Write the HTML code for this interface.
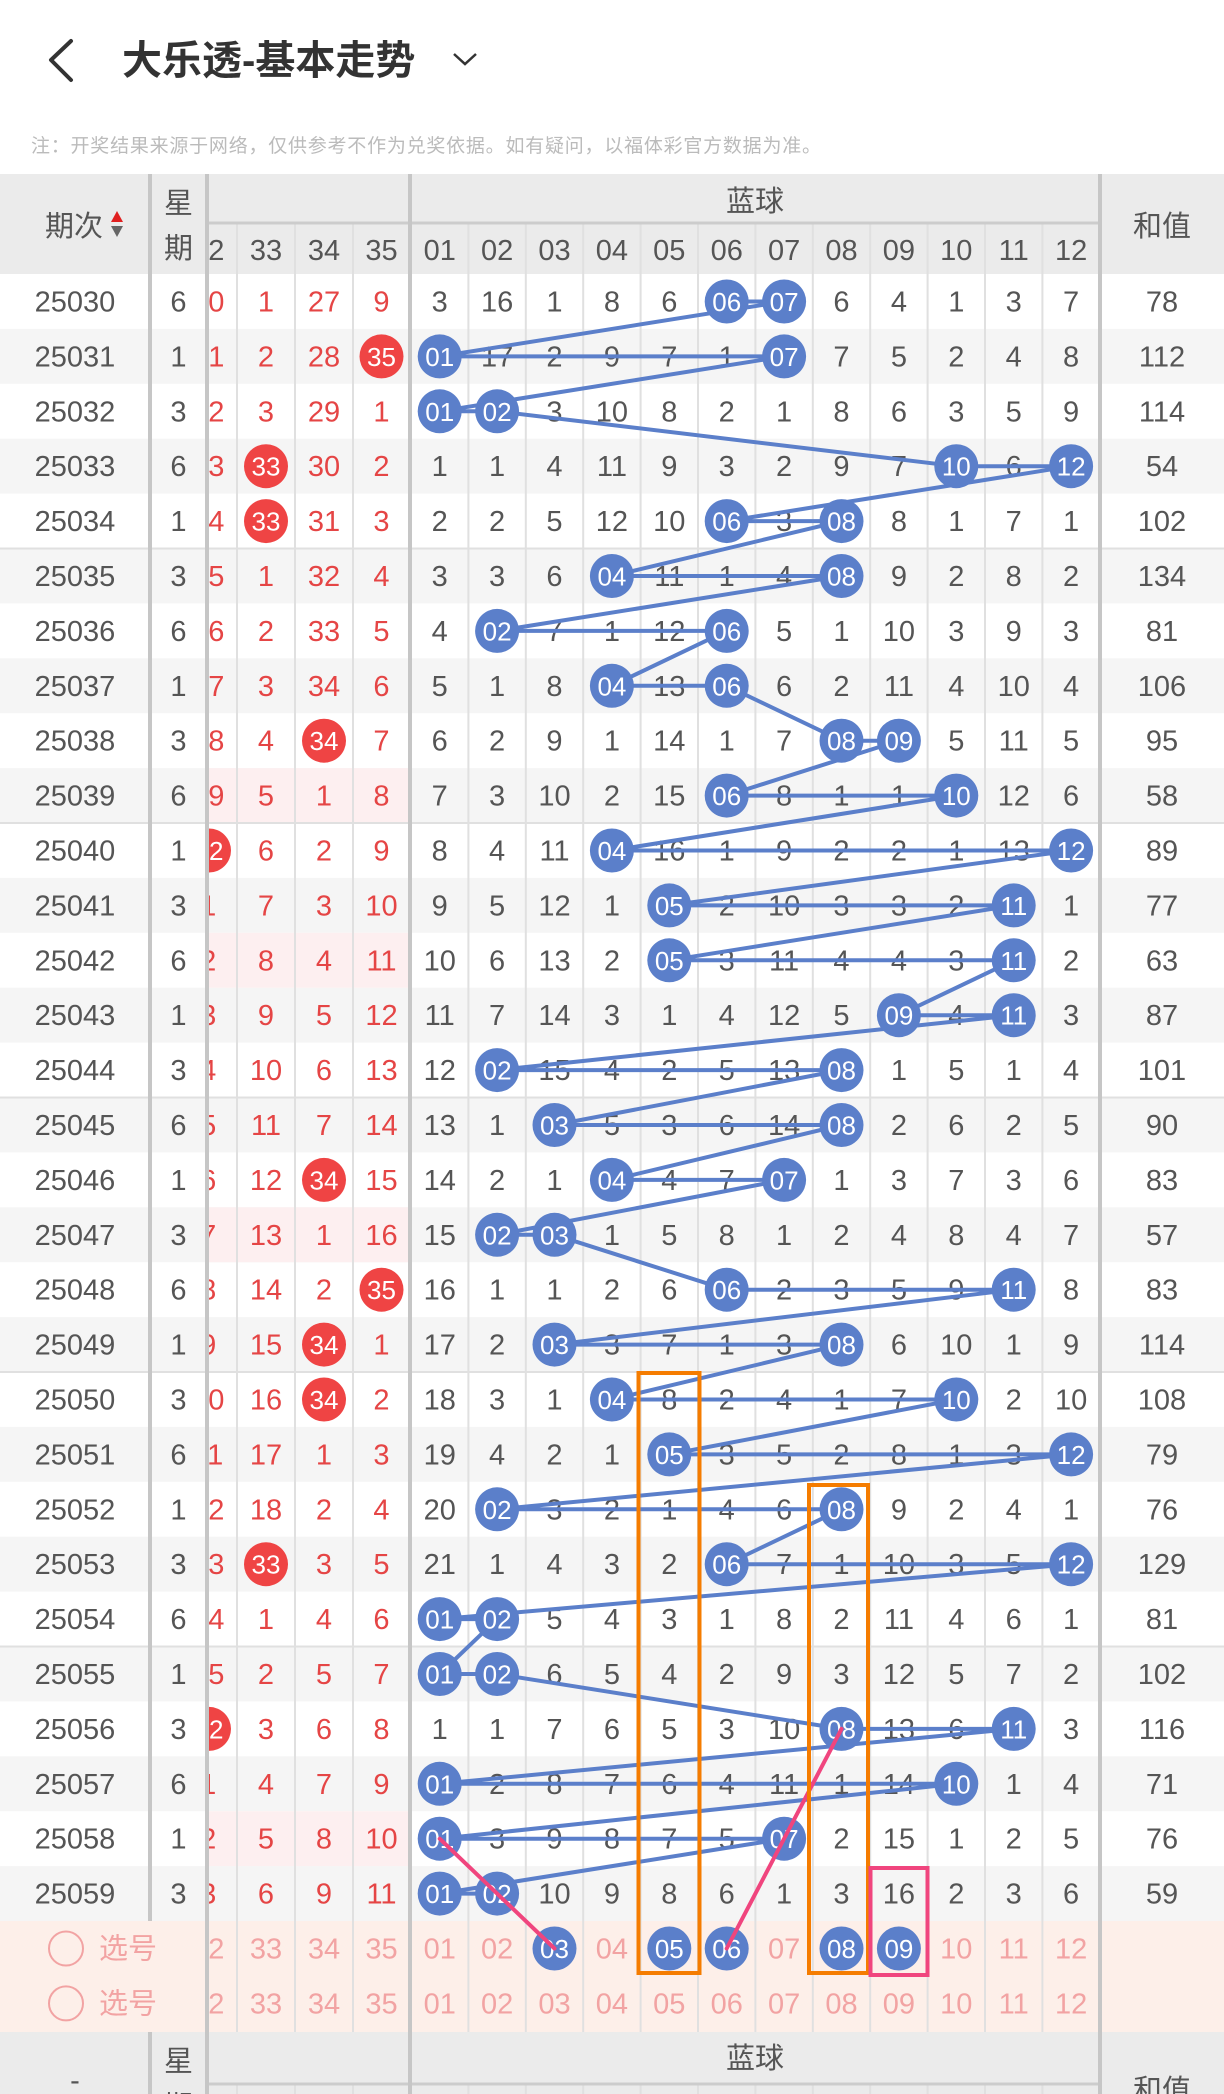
<!DOCTYPE html>
<html><head><meta charset="utf-8"><style>
html,body{margin:0;padding:0;background:#fff;}
svg{display:block;}
text{font-family:"Liberation Sans","Noto Sans CJK SC",sans-serif;text-anchor:middle;}
.t text{font-size:29px;fill:#555;}
.t .r{fill:#e54545;}
.b text{font-size:26px;fill:#fff;}
.h text{font-size:29px;fill:#555;}
.p text{font-size:29px;fill:#f2a3a3;}
</style></head><body>
<svg width="1224" height="2094" viewBox="0 0 1224 2094" xmlns="http://www.w3.org/2000/svg">
<defs><clipPath id="c32"><rect x="209" y="174" width="28" height="1920"/></clipPath></defs>
<rect width="1224" height="2094" fill="#fff"/>
<!-- title -->
<polyline points="71,41 51,60 71,80" fill="none" stroke="#333" stroke-width="4" stroke-linecap="round" stroke-linejoin="round"/>
<text x="122" y="74" style="text-anchor:start;font-size:40px;font-weight:bold;fill:#333">大乐透-基本走势</text>
<polyline points="454,54 465,64 476,54" fill="none" stroke="#333" stroke-width="2.5"/>
<text x="31" y="152" textLength="790" style="text-anchor:start;font-size:19px;fill:#bbb">注：开奖结果来源于网络，仅供参考不作为兑奖依据。如有疑问，以福体彩官方数据为准。</text>
<!-- header bg -->
<rect x="0" y="174" width="1224" height="100" fill="#ebebeb"/>
<!-- row backgrounds -->
<g fill="#f5f5f5">
<rect x="0" y="328.9" width="1224" height="54.9"/><rect x="0" y="438.7" width="1224" height="54.9"/><rect x="0" y="548.5" width="1224" height="54.9"/><rect x="0" y="658.3" width="1224" height="54.9"/><rect x="0" y="768.1" width="1224" height="54.9"/><rect x="0" y="877.9" width="1224" height="54.9"/><rect x="0" y="987.7" width="1224" height="54.9"/><rect x="0" y="1097.5" width="1224" height="54.9"/><rect x="0" y="1207.3" width="1224" height="54.9"/><rect x="0" y="1317.1" width="1224" height="54.9"/><rect x="0" y="1426.9" width="1224" height="54.9"/><rect x="0" y="1536.7" width="1224" height="54.9"/><rect x="0" y="1646.5" width="1224" height="54.9"/><rect x="0" y="1756.3" width="1224" height="54.9"/><rect x="0" y="1866.1" width="1224" height="54.9"/>
</g>
<g fill="#fdeff0">
<rect x="209" y="768.1" width="199" height="54.9"/><rect x="209" y="932.8" width="199" height="54.9"/><rect x="209" y="1207.3" width="199" height="54.9"/><rect x="209" y="1811.2" width="199" height="54.9"/>
</g>
<rect x="0" y="1921" width="1224" height="111" fill="#fdefe9"/>
<rect x="0" y="2032" width="1224" height="62" fill="#ebebeb"/>
<!-- grid -->
<g stroke="#e0e0e0" stroke-width="2">
<line x1="237" y1="223" x2="237" y2="2032"/><line x1="295" y1="223" x2="295" y2="2032"/><line x1="353" y1="223" x2="353" y2="2032"/>
<line x1="468.4" y1="223" x2="468.4" y2="2032"/><line x1="525.8" y1="223" x2="525.8" y2="2032"/><line x1="583.2" y1="223" x2="583.2" y2="2032"/><line x1="640.6" y1="223" x2="640.6" y2="2032"/><line x1="698" y1="223" x2="698" y2="2032"/><line x1="755.4" y1="223" x2="755.4" y2="2032"/><line x1="812.8" y1="223" x2="812.8" y2="2032"/><line x1="870.2" y1="223" x2="870.2" y2="2032"/><line x1="927.6" y1="223" x2="927.6" y2="2032"/><line x1="985" y1="223" x2="985" y2="2032"/><line x1="1042.4" y1="223" x2="1042.4" y2="2032"/>
<line x1="237" y1="2084" x2="237" y2="2094"/><line x1="295" y1="2084" x2="295" y2="2094"/><line x1="353" y1="2084" x2="353" y2="2094"/>
<line x1="468.4" y1="2084" x2="468.4" y2="2094"/><line x1="525.8" y1="2084" x2="525.8" y2="2094"/><line x1="583.2" y1="2084" x2="583.2" y2="2094"/><line x1="640.6" y1="2084" x2="640.6" y2="2094"/><line x1="698" y1="2084" x2="698" y2="2094"/><line x1="755.4" y1="2084" x2="755.4" y2="2094"/><line x1="812.8" y1="2084" x2="812.8" y2="2094"/><line x1="870.2" y1="2084" x2="870.2" y2="2094"/><line x1="927.6" y1="2084" x2="927.6" y2="2094"/><line x1="985" y1="2084" x2="985" y2="2094"/><line x1="1042.4" y1="2084" x2="1042.4" y2="2094"/>
<line x1="0" y1="548.5" x2="1224" y2="548.5"/><line x1="0" y1="823" x2="1224" y2="823"/><line x1="0" y1="1097.5" x2="1224" y2="1097.5"/><line x1="0" y1="1372" x2="1224" y2="1372"/><line x1="0" y1="1646.5" x2="1224" y2="1646.5"/>
</g>
<g stroke="#cccccc" stroke-width="3">
<line x1="209" y1="223" x2="1100" y2="223"/><line x1="209" y1="2084" x2="1100" y2="2084"/>
</g>
<g stroke="#c6c6c6" stroke-width="4">
<line x1="150" y1="174" x2="150" y2="1921"/><line x1="150" y1="2032" x2="150" y2="2094"/>
<line x1="207" y1="174" x2="207" y2="2094"/><line x1="410" y1="174" x2="410" y2="2094"/><line x1="1100" y1="174" x2="1100" y2="2094"/>
</g>
<!-- header text -->
<g class="h">
<text x="74" y="236">期次</text>
<text x="178.5" y="213">星</text><text x="178.5" y="258">期</text>
<text x="755" y="211">蓝球</text><text x="1162" y="236">和值</text>
<text x="266" y="260">33</text><text x="324" y="260">34</text><text x="381.5" y="260">35</text>
<text x="439.7" y="260">01</text><text x="497.1" y="260">02</text><text x="554.5" y="260">03</text><text x="611.9" y="260">04</text><text x="669.3" y="260">05</text><text x="726.7" y="260">06</text><text x="784.1" y="260">07</text><text x="841.5" y="260">08</text><text x="898.9" y="260">09</text><text x="956.3" y="260">10</text><text x="1013.7" y="260">11</text><text x="1071.1" y="260">12</text>
<text x="178.5" y="2071">星</text><text x="178.5" y="2116">期</text><text x="75" y="2090">-</text>
<text x="755" y="2068">蓝球</text><text x="1162" y="2100">和值</text>
</g>
<polygon points="117,211 111,222 123,222" fill="#e02020"/>
<polygon points="111,226 123,226 117,237" fill="#666"/>
<!-- col 32 clipped -->
<g clip-path="url(#c32)">
<g class="t"><g class="r">
<text class="r" x="208.25" y="260" style="fill:#555">32</text>
<text class="r" x="208.25" y="311.5">20</text><text class="r" x="208.25" y="366.4">21</text><text class="r" x="208.25" y="421.3">22</text><text class="r" x="208.25" y="476.2">23</text><text class="r" x="208.25" y="531.1">24</text><text class="r" x="208.25" y="586">25</text><text class="r" x="208.25" y="640.9">26</text><text class="r" x="208.25" y="695.8">27</text><text class="r" x="208.25" y="750.7">28</text><text class="r" x="208.25" y="805.6">29</text>
<text class="r" x="208.25" y="915.4">1</text><text class="r" x="208.25" y="970.3">2</text><text class="r" x="208.25" y="1025.2">3</text><text class="r" x="208.25" y="1080.1">4</text><text class="r" x="208.25" y="1135">5</text><text class="r" x="208.25" y="1189.9">6</text><text class="r" x="208.25" y="1244.8">7</text><text class="r" x="208.25" y="1299.7">8</text><text class="r" x="208.25" y="1354.6">9</text><text class="r" x="208.25" y="1409.5">10</text><text class="r" x="208.25" y="1464.4">11</text><text class="r" x="208.25" y="1519.3">12</text><text class="r" x="208.25" y="1574.2">13</text><text class="r" x="208.25" y="1629.1">14</text><text class="r" x="208.25" y="1684">15</text>
<text class="r" x="208.25" y="1793.8">1</text><text class="r" x="208.25" y="1848.7">2</text><text class="r" x="208.25" y="1903.6">3</text>
<text class="r" x="208.25" y="1958.5" style="fill:#f2a3a3">32</text><text class="r" x="208.25" y="2013.4" style="fill:#f2a3a3">32</text>
</g></g>
<circle cx="209" cy="850.5" r="22" fill="#ef4444"/><circle cx="209" cy="1728.9" r="22" fill="#ef4444"/>
<g class="b"><text x="209" y="860">32</text><text x="209" y="1738.4">32</text></g>
</g>
<!-- data text -->
<g class="t">
<g transform="translate(0,311.5)"><text x="75">25030</text><text x="178.5">6</text><text class="r" x="266">1</text><text class="r" x="324">27</text><text class="r" x="381.5">9</text><text x="439.7">3</text><text x="497.1">16</text><text x="554.5">1</text><text x="611.9">8</text><text x="669.3">6</text><text x="841.5">6</text><text x="898.9">4</text><text x="956.3">1</text><text x="1013.7">3</text><text x="1071.1">7</text><text x="1162">78</text></g>
<g transform="translate(0,366.4)"><text x="75">25031</text><text x="178.5">1</text><text class="r" x="266">2</text><text class="r" x="324">28</text><text x="497.1">17</text><text x="554.5">2</text><text x="611.9">9</text><text x="669.3">7</text><text x="726.7">1</text><text x="841.5">7</text><text x="898.9">5</text><text x="956.3">2</text><text x="1013.7">4</text><text x="1071.1">8</text><text x="1162">112</text></g>
<g transform="translate(0,421.3)"><text x="75">25032</text><text x="178.5">3</text><text class="r" x="266">3</text><text class="r" x="324">29</text><text class="r" x="381.5">1</text><text x="554.5">3</text><text x="611.9">10</text><text x="669.3">8</text><text x="726.7">2</text><text x="784.1">1</text><text x="841.5">8</text><text x="898.9">6</text><text x="956.3">3</text><text x="1013.7">5</text><text x="1071.1">9</text><text x="1162">114</text></g>
<g transform="translate(0,476.2)"><text x="75">25033</text><text x="178.5">6</text><text class="r" x="324">30</text><text class="r" x="381.5">2</text><text x="439.7">1</text><text x="497.1">1</text><text x="554.5">4</text><text x="611.9">11</text><text x="669.3">9</text><text x="726.7">3</text><text x="784.1">2</text><text x="841.5">9</text><text x="898.9">7</text><text x="1013.7">6</text><text x="1162">54</text></g>
<g transform="translate(0,531.1)"><text x="75">25034</text><text x="178.5">1</text><text class="r" x="324">31</text><text class="r" x="381.5">3</text><text x="439.7">2</text><text x="497.1">2</text><text x="554.5">5</text><text x="611.9">12</text><text x="669.3">10</text><text x="784.1">3</text><text x="898.9">8</text><text x="956.3">1</text><text x="1013.7">7</text><text x="1071.1">1</text><text x="1162">102</text></g>
<g transform="translate(0,586)"><text x="75">25035</text><text x="178.5">3</text><text class="r" x="266">1</text><text class="r" x="324">32</text><text class="r" x="381.5">4</text><text x="439.7">3</text><text x="497.1">3</text><text x="554.5">6</text><text x="669.3">11</text><text x="726.7">1</text><text x="784.1">4</text><text x="898.9">9</text><text x="956.3">2</text><text x="1013.7">8</text><text x="1071.1">2</text><text x="1162">134</text></g>
<g transform="translate(0,640.9)"><text x="75">25036</text><text x="178.5">6</text><text class="r" x="266">2</text><text class="r" x="324">33</text><text class="r" x="381.5">5</text><text x="439.7">4</text><text x="554.5">7</text><text x="611.9">1</text><text x="669.3">12</text><text x="784.1">5</text><text x="841.5">1</text><text x="898.9">10</text><text x="956.3">3</text><text x="1013.7">9</text><text x="1071.1">3</text><text x="1162">81</text></g>
<g transform="translate(0,695.8)"><text x="75">25037</text><text x="178.5">1</text><text class="r" x="266">3</text><text class="r" x="324">34</text><text class="r" x="381.5">6</text><text x="439.7">5</text><text x="497.1">1</text><text x="554.5">8</text><text x="669.3">13</text><text x="784.1">6</text><text x="841.5">2</text><text x="898.9">11</text><text x="956.3">4</text><text x="1013.7">10</text><text x="1071.1">4</text><text x="1162">106</text></g>
<g transform="translate(0,750.7)"><text x="75">25038</text><text x="178.5">3</text><text class="r" x="266">4</text><text class="r" x="381.5">7</text><text x="439.7">6</text><text x="497.1">2</text><text x="554.5">9</text><text x="611.9">1</text><text x="669.3">14</text><text x="726.7">1</text><text x="784.1">7</text><text x="956.3">5</text><text x="1013.7">11</text><text x="1071.1">5</text><text x="1162">95</text></g>
<g transform="translate(0,805.6)"><text x="75">25039</text><text x="178.5">6</text><text class="r" x="266">5</text><text class="r" x="324">1</text><text class="r" x="381.5">8</text><text x="439.7">7</text><text x="497.1">3</text><text x="554.5">10</text><text x="611.9">2</text><text x="669.3">15</text><text x="784.1">8</text><text x="841.5">1</text><text x="898.9">1</text><text x="1013.7">12</text><text x="1071.1">6</text><text x="1162">58</text></g>
<g transform="translate(0,860.5)"><text x="75">25040</text><text x="178.5">1</text><text class="r" x="266">6</text><text class="r" x="324">2</text><text class="r" x="381.5">9</text><text x="439.7">8</text><text x="497.1">4</text><text x="554.5">11</text><text x="669.3">16</text><text x="726.7">1</text><text x="784.1">9</text><text x="841.5">2</text><text x="898.9">2</text><text x="956.3">1</text><text x="1013.7">13</text><text x="1162">89</text></g>
<g transform="translate(0,915.4)"><text x="75">25041</text><text x="178.5">3</text><text class="r" x="266">7</text><text class="r" x="324">3</text><text class="r" x="381.5">10</text><text x="439.7">9</text><text x="497.1">5</text><text x="554.5">12</text><text x="611.9">1</text><text x="726.7">2</text><text x="784.1">10</text><text x="841.5">3</text><text x="898.9">3</text><text x="956.3">2</text><text x="1071.1">1</text><text x="1162">77</text></g>
<g transform="translate(0,970.3)"><text x="75">25042</text><text x="178.5">6</text><text class="r" x="266">8</text><text class="r" x="324">4</text><text class="r" x="381.5">11</text><text x="439.7">10</text><text x="497.1">6</text><text x="554.5">13</text><text x="611.9">2</text><text x="726.7">3</text><text x="784.1">11</text><text x="841.5">4</text><text x="898.9">4</text><text x="956.3">3</text><text x="1071.1">2</text><text x="1162">63</text></g>
<g transform="translate(0,1025.2)"><text x="75">25043</text><text x="178.5">1</text><text class="r" x="266">9</text><text class="r" x="324">5</text><text class="r" x="381.5">12</text><text x="439.7">11</text><text x="497.1">7</text><text x="554.5">14</text><text x="611.9">3</text><text x="669.3">1</text><text x="726.7">4</text><text x="784.1">12</text><text x="841.5">5</text><text x="956.3">4</text><text x="1071.1">3</text><text x="1162">87</text></g>
<g transform="translate(0,1080.1)"><text x="75">25044</text><text x="178.5">3</text><text class="r" x="266">10</text><text class="r" x="324">6</text><text class="r" x="381.5">13</text><text x="439.7">12</text><text x="554.5">15</text><text x="611.9">4</text><text x="669.3">2</text><text x="726.7">5</text><text x="784.1">13</text><text x="898.9">1</text><text x="956.3">5</text><text x="1013.7">1</text><text x="1071.1">4</text><text x="1162">101</text></g>
<g transform="translate(0,1135)"><text x="75">25045</text><text x="178.5">6</text><text class="r" x="266">11</text><text class="r" x="324">7</text><text class="r" x="381.5">14</text><text x="439.7">13</text><text x="497.1">1</text><text x="611.9">5</text><text x="669.3">3</text><text x="726.7">6</text><text x="784.1">14</text><text x="898.9">2</text><text x="956.3">6</text><text x="1013.7">2</text><text x="1071.1">5</text><text x="1162">90</text></g>
<g transform="translate(0,1189.9)"><text x="75">25046</text><text x="178.5">1</text><text class="r" x="266">12</text><text class="r" x="381.5">15</text><text x="439.7">14</text><text x="497.1">2</text><text x="554.5">1</text><text x="669.3">4</text><text x="726.7">7</text><text x="841.5">1</text><text x="898.9">3</text><text x="956.3">7</text><text x="1013.7">3</text><text x="1071.1">6</text><text x="1162">83</text></g>
<g transform="translate(0,1244.8)"><text x="75">25047</text><text x="178.5">3</text><text class="r" x="266">13</text><text class="r" x="324">1</text><text class="r" x="381.5">16</text><text x="439.7">15</text><text x="611.9">1</text><text x="669.3">5</text><text x="726.7">8</text><text x="784.1">1</text><text x="841.5">2</text><text x="898.9">4</text><text x="956.3">8</text><text x="1013.7">4</text><text x="1071.1">7</text><text x="1162">57</text></g>
<g transform="translate(0,1299.7)"><text x="75">25048</text><text x="178.5">6</text><text class="r" x="266">14</text><text class="r" x="324">2</text><text x="439.7">16</text><text x="497.1">1</text><text x="554.5">1</text><text x="611.9">2</text><text x="669.3">6</text><text x="784.1">2</text><text x="841.5">3</text><text x="898.9">5</text><text x="956.3">9</text><text x="1071.1">8</text><text x="1162">83</text></g>
<g transform="translate(0,1354.6)"><text x="75">25049</text><text x="178.5">1</text><text class="r" x="266">15</text><text class="r" x="381.5">1</text><text x="439.7">17</text><text x="497.1">2</text><text x="611.9">3</text><text x="669.3">7</text><text x="726.7">1</text><text x="784.1">3</text><text x="898.9">6</text><text x="956.3">10</text><text x="1013.7">1</text><text x="1071.1">9</text><text x="1162">114</text></g>
<g transform="translate(0,1409.5)"><text x="75">25050</text><text x="178.5">3</text><text class="r" x="266">16</text><text class="r" x="381.5">2</text><text x="439.7">18</text><text x="497.1">3</text><text x="554.5">1</text><text x="669.3">8</text><text x="726.7">2</text><text x="784.1">4</text><text x="841.5">1</text><text x="898.9">7</text><text x="1013.7">2</text><text x="1071.1">10</text><text x="1162">108</text></g>
<g transform="translate(0,1464.4)"><text x="75">25051</text><text x="178.5">6</text><text class="r" x="266">17</text><text class="r" x="324">1</text><text class="r" x="381.5">3</text><text x="439.7">19</text><text x="497.1">4</text><text x="554.5">2</text><text x="611.9">1</text><text x="726.7">3</text><text x="784.1">5</text><text x="841.5">2</text><text x="898.9">8</text><text x="956.3">1</text><text x="1013.7">3</text><text x="1162">79</text></g>
<g transform="translate(0,1519.3)"><text x="75">25052</text><text x="178.5">1</text><text class="r" x="266">18</text><text class="r" x="324">2</text><text class="r" x="381.5">4</text><text x="439.7">20</text><text x="554.5">3</text><text x="611.9">2</text><text x="669.3">1</text><text x="726.7">4</text><text x="784.1">6</text><text x="898.9">9</text><text x="956.3">2</text><text x="1013.7">4</text><text x="1071.1">1</text><text x="1162">76</text></g>
<g transform="translate(0,1574.2)"><text x="75">25053</text><text x="178.5">3</text><text class="r" x="324">3</text><text class="r" x="381.5">5</text><text x="439.7">21</text><text x="497.1">1</text><text x="554.5">4</text><text x="611.9">3</text><text x="669.3">2</text><text x="784.1">7</text><text x="841.5">1</text><text x="898.9">10</text><text x="956.3">3</text><text x="1013.7">5</text><text x="1162">129</text></g>
<g transform="translate(0,1629.1)"><text x="75">25054</text><text x="178.5">6</text><text class="r" x="266">1</text><text class="r" x="324">4</text><text class="r" x="381.5">6</text><text x="554.5">5</text><text x="611.9">4</text><text x="669.3">3</text><text x="726.7">1</text><text x="784.1">8</text><text x="841.5">2</text><text x="898.9">11</text><text x="956.3">4</text><text x="1013.7">6</text><text x="1071.1">1</text><text x="1162">81</text></g>
<g transform="translate(0,1684)"><text x="75">25055</text><text x="178.5">1</text><text class="r" x="266">2</text><text class="r" x="324">5</text><text class="r" x="381.5">7</text><text x="554.5">6</text><text x="611.9">5</text><text x="669.3">4</text><text x="726.7">2</text><text x="784.1">9</text><text x="841.5">3</text><text x="898.9">12</text><text x="956.3">5</text><text x="1013.7">7</text><text x="1071.1">2</text><text x="1162">102</text></g>
<g transform="translate(0,1738.9)"><text x="75">25056</text><text x="178.5">3</text><text class="r" x="266">3</text><text class="r" x="324">6</text><text class="r" x="381.5">8</text><text x="439.7">1</text><text x="497.1">1</text><text x="554.5">7</text><text x="611.9">6</text><text x="669.3">5</text><text x="726.7">3</text><text x="784.1">10</text><text x="898.9">13</text><text x="956.3">6</text><text x="1071.1">3</text><text x="1162">116</text></g>
<g transform="translate(0,1793.8)"><text x="75">25057</text><text x="178.5">6</text><text class="r" x="266">4</text><text class="r" x="324">7</text><text class="r" x="381.5">9</text><text x="497.1">2</text><text x="554.5">8</text><text x="611.9">7</text><text x="669.3">6</text><text x="726.7">4</text><text x="784.1">11</text><text x="841.5">1</text><text x="898.9">14</text><text x="1013.7">1</text><text x="1071.1">4</text><text x="1162">71</text></g>
<g transform="translate(0,1848.7)"><text x="75">25058</text><text x="178.5">1</text><text class="r" x="266">5</text><text class="r" x="324">8</text><text class="r" x="381.5">10</text><text x="497.1">3</text><text x="554.5">9</text><text x="611.9">8</text><text x="669.3">7</text><text x="726.7">5</text><text x="841.5">2</text><text x="898.9">15</text><text x="956.3">1</text><text x="1013.7">2</text><text x="1071.1">5</text><text x="1162">76</text></g>
<g transform="translate(0,1903.6)"><text x="75">25059</text><text x="178.5">3</text><text class="r" x="266">6</text><text class="r" x="324">9</text><text class="r" x="381.5">11</text><text x="554.5">10</text><text x="611.9">9</text><text x="669.3">8</text><text x="726.7">6</text><text x="784.1">1</text><text x="841.5">3</text><text x="898.9">16</text><text x="956.3">2</text><text x="1013.7">3</text><text x="1071.1">6</text><text x="1162">59</text></g>
</g>
<!-- selection rows -->
<g class="p">
<circle cx="66" cy="1948.5" r="17" fill="none" stroke="#f2a3a3" stroke-width="2"/>
<circle cx="66" cy="2003.4" r="17" fill="none" stroke="#f2a3a3" stroke-width="2"/>
<g transform="translate(0,1958.5)"><text x="128">选号</text><text x="266">33</text><text x="324">34</text><text x="381.5">35</text><text x="439.7">01</text><text x="497.1">02</text><text x="611.9">04</text><text x="784.1">07</text><text x="956.3">10</text><text x="1013.7">11</text><text x="1071.1">12</text></g>
<g transform="translate(0,2013.4)"><text x="128">选号</text><text x="266">33</text><text x="324">34</text><text x="381.5">35</text><text x="439.7">01</text><text x="497.1">02</text><text x="554.5">03</text><text x="611.9">04</text><text x="669.3">05</text><text x="726.7">06</text><text x="784.1">07</text><text x="841.5">08</text><text x="898.9">09</text><text x="956.3">10</text><text x="1013.7">11</text><text x="1071.1">12</text></g>
</g>
<!-- blue trend line -->
<polyline fill="none" stroke="#5b7fca" stroke-width="4" stroke-linejoin="round" points="726.7,301.5 784.1,301.5 439.7,356.4 784.1,356.4 439.7,411.3 497.1,411.3 956.3,466.2 1071.1,466.2 726.7,521.1 841.5,521.1 611.9,576 841.5,576 497.1,630.9 726.7,630.9 611.9,685.8 726.7,685.8 841.5,740.7 898.9,740.7 726.7,795.6 956.3,795.6 611.9,850.5 1071.1,850.5 669.3,905.4 1013.7,905.4 669.3,960.3 1013.7,960.3 898.9,1015.2 1013.7,1015.2 497.1,1070.1 841.5,1070.1 554.5,1125 841.5,1125 611.9,1179.9 784.1,1179.9 497.1,1234.8 554.5,1234.8 726.7,1289.7 1013.7,1289.7 554.5,1344.6 841.5,1344.6 611.9,1399.5 956.3,1399.5 669.3,1454.4 1071.1,1454.4 497.1,1509.3 841.5,1509.3 726.7,1564.2 1071.1,1564.2 439.7,1619.1 497.1,1619.1 439.7,1674 497.1,1674 841.5,1728.9 1013.7,1728.9 439.7,1783.8 956.3,1783.8 439.7,1838.7 784.1,1838.7 439.7,1893.6 497.1,1893.6"/>
<!-- red balls -->
<g fill="#ef4444">
<circle cx="381.5" cy="356.4" r="22"/><circle cx="266" cy="466.2" r="22"/><circle cx="266" cy="521.1" r="22"/><circle cx="324" cy="740.7" r="22"/><circle cx="324" cy="1179.9" r="22"/><circle cx="381.5" cy="1289.7" r="22"/><circle cx="324" cy="1344.6" r="22"/><circle cx="324" cy="1399.5" r="22"/><circle cx="266" cy="1564.2" r="22"/>
</g>
<g class="b">
<text x="381.5" y="365.9">35</text><text x="266" y="475.7">33</text><text x="266" y="530.6">33</text><text x="324" y="750.2">34</text><text x="324" y="1189.4">34</text><text x="381.5" y="1299.2">35</text><text x="324" y="1354.1">34</text><text x="324" y="1409">34</text><text x="266" y="1573.7">33</text>
</g>
<!-- blue balls -->
<g fill="#5b7fca">
<circle cx="726.7" cy="301.5" r="22"/><circle cx="784.1" cy="301.5" r="22"/>
<circle cx="439.7" cy="356.4" r="22"/><circle cx="784.1" cy="356.4" r="22"/>
<circle cx="439.7" cy="411.3" r="22"/><circle cx="497.1" cy="411.3" r="22"/>
<circle cx="956.3" cy="466.2" r="22"/><circle cx="1071.1" cy="466.2" r="22"/>
<circle cx="726.7" cy="521.1" r="22"/><circle cx="841.5" cy="521.1" r="22"/>
<circle cx="611.9" cy="576" r="22"/><circle cx="841.5" cy="576" r="22"/>
<circle cx="497.1" cy="630.9" r="22"/><circle cx="726.7" cy="630.9" r="22"/>
<circle cx="611.9" cy="685.8" r="22"/><circle cx="726.7" cy="685.8" r="22"/>
<circle cx="841.5" cy="740.7" r="22"/><circle cx="898.9" cy="740.7" r="22"/>
<circle cx="726.7" cy="795.6" r="22"/><circle cx="956.3" cy="795.6" r="22"/>
<circle cx="611.9" cy="850.5" r="22"/><circle cx="1071.1" cy="850.5" r="22"/>
<circle cx="669.3" cy="905.4" r="22"/><circle cx="1013.7" cy="905.4" r="22"/>
<circle cx="669.3" cy="960.3" r="22"/><circle cx="1013.7" cy="960.3" r="22"/>
<circle cx="898.9" cy="1015.2" r="22"/><circle cx="1013.7" cy="1015.2" r="22"/>
<circle cx="497.1" cy="1070.1" r="22"/><circle cx="841.5" cy="1070.1" r="22"/>
<circle cx="554.5" cy="1125" r="22"/><circle cx="841.5" cy="1125" r="22"/>
<circle cx="611.9" cy="1179.9" r="22"/><circle cx="784.1" cy="1179.9" r="22"/>
<circle cx="497.1" cy="1234.8" r="22"/><circle cx="554.5" cy="1234.8" r="22"/>
<circle cx="726.7" cy="1289.7" r="22"/><circle cx="1013.7" cy="1289.7" r="22"/>
<circle cx="554.5" cy="1344.6" r="22"/><circle cx="841.5" cy="1344.6" r="22"/>
<circle cx="611.9" cy="1399.5" r="22"/><circle cx="956.3" cy="1399.5" r="22"/>
<circle cx="669.3" cy="1454.4" r="22"/><circle cx="1071.1" cy="1454.4" r="22"/>
<circle cx="497.1" cy="1509.3" r="22"/><circle cx="841.5" cy="1509.3" r="22"/>
<circle cx="726.7" cy="1564.2" r="22"/><circle cx="1071.1" cy="1564.2" r="22"/>
<circle cx="439.7" cy="1619.1" r="22"/><circle cx="497.1" cy="1619.1" r="22"/>
<circle cx="439.7" cy="1674" r="22"/><circle cx="497.1" cy="1674" r="22"/>
<circle cx="841.5" cy="1728.9" r="22"/><circle cx="1013.7" cy="1728.9" r="22"/>
<circle cx="439.7" cy="1783.8" r="22"/><circle cx="956.3" cy="1783.8" r="22"/>
<circle cx="439.7" cy="1838.7" r="22"/><circle cx="784.1" cy="1838.7" r="22"/>
<circle cx="439.7" cy="1893.6" r="22"/><circle cx="497.1" cy="1893.6" r="22"/>
<circle cx="554.5" cy="1948.5" r="22"/><circle cx="669.3" cy="1948.5" r="22"/><circle cx="726.7" cy="1948.5" r="22"/><circle cx="841.5" cy="1948.5" r="22"/><circle cx="898.9" cy="1948.5" r="22"/>
</g>
<g class="b">
<text x="726.7" y="311">06</text><text x="784.1" y="311">07</text>
<text x="439.7" y="365.9">01</text><text x="784.1" y="365.9">07</text>
<text x="439.7" y="420.8">01</text><text x="497.1" y="420.8">02</text>
<text x="956.3" y="475.7">10</text><text x="1071.1" y="475.7">12</text>
<text x="726.7" y="530.6">06</text><text x="841.5" y="530.6">08</text>
<text x="611.9" y="585.5">04</text><text x="841.5" y="585.5">08</text>
<text x="497.1" y="640.4">02</text><text x="726.7" y="640.4">06</text>
<text x="611.9" y="695.3">04</text><text x="726.7" y="695.3">06</text>
<text x="841.5" y="750.2">08</text><text x="898.9" y="750.2">09</text>
<text x="726.7" y="805.1">06</text><text x="956.3" y="805.1">10</text>
<text x="611.9" y="860">04</text><text x="1071.1" y="860">12</text>
<text x="669.3" y="914.9">05</text><text x="1013.7" y="914.9">11</text>
<text x="669.3" y="969.8">05</text><text x="1013.7" y="969.8">11</text>
<text x="898.9" y="1024.7">09</text><text x="1013.7" y="1024.7">11</text>
<text x="497.1" y="1079.6">02</text><text x="841.5" y="1079.6">08</text>
<text x="554.5" y="1134.5">03</text><text x="841.5" y="1134.5">08</text>
<text x="611.9" y="1189.4">04</text><text x="784.1" y="1189.4">07</text>
<text x="497.1" y="1244.3">02</text><text x="554.5" y="1244.3">03</text>
<text x="726.7" y="1299.2">06</text><text x="1013.7" y="1299.2">11</text>
<text x="554.5" y="1354.1">03</text><text x="841.5" y="1354.1">08</text>
<text x="611.9" y="1409">04</text><text x="956.3" y="1409">10</text>
<text x="669.3" y="1463.9">05</text><text x="1071.1" y="1463.9">12</text>
<text x="497.1" y="1518.8">02</text><text x="841.5" y="1518.8">08</text>
<text x="726.7" y="1573.7">06</text><text x="1071.1" y="1573.7">12</text>
<text x="439.7" y="1628.6">01</text><text x="497.1" y="1628.6">02</text>
<text x="439.7" y="1683.5">01</text><text x="497.1" y="1683.5">02</text>
<text x="841.5" y="1738.4">08</text><text x="1013.7" y="1738.4">11</text>
<text x="439.7" y="1793.3">01</text><text x="956.3" y="1793.3">10</text>
<text x="439.7" y="1848.2">01</text><text x="784.1" y="1848.2">07</text>
<text x="439.7" y="1903.1">01</text><text x="497.1" y="1903.1">02</text>
<text x="554.5" y="1958">03</text><text x="669.3" y="1958">05</text><text x="726.7" y="1958">06</text><text x="841.5" y="1958">08</text><text x="898.9" y="1958">09</text>
</g>
<!-- pink lines -->
<g stroke="#f0457e" stroke-width="4" stroke-linecap="round">
<line x1="439.7" y1="1838.7" x2="554.5" y2="1948.5"/>
<line x1="841.5" y1="1728.9" x2="726.7" y2="1948.5"/>
</g>
<!-- highlight rects -->
<g fill="none" stroke-width="4">
<rect x="638.5" y="1373" width="61" height="600" stroke="#f57c00"/>
<rect x="809" y="1485" width="59" height="488" stroke="#f57c00"/>
<rect x="870.5" y="1868" width="57" height="107" stroke="#f0457e"/>
</g>
</svg>
</body></html>
